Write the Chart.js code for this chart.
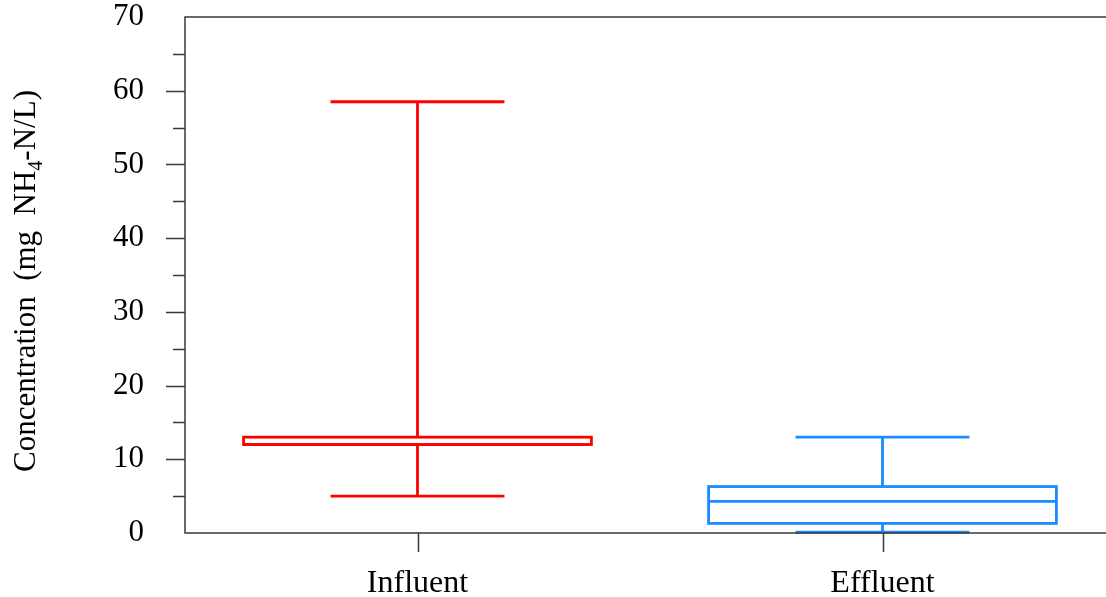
<!DOCTYPE html>
<html>
<head>
<meta charset="utf-8">
<script src="https://cdn.jsdelivr.net/npm/chart.js@4/dist/chart.umd.min.js"></script>
<style>
  html, body { margin: 0; padding: 0; background: #fff; }
  #wrap { width: 1106px; height: 597px; }
</style>
</head>
<body>
<div id="wrap"><canvas id="boxChart"></canvas></div>
<script>
// ammonium concentration, influent vs effluent
const categories = ['Influent', 'Effluent'];
const whiskerLow = [5, 0.1];
const q1 = [12, 1.3];
const median = [12, 4.3];
const q3 = [13, 6.3];
const whiskerHigh = [58.5, 13];
const boxColors = ['#ff0000', '#1a8cff'];
const yTicks = [0, 10, 20, 30, 40, 50, 60, 70];

const FONT = '"Liberation Serif", "Times New Roman", serif';
const AXIS = '#3a3a3a';

// boxes, whiskers, tick marks and the rotated y title
const boxPlot = {
    id: 'boxPlot',
    afterDatasetsDraw(chart) {
        const ctx = chart.ctx;
        const x = chart.scales.x;
        const y = chart.scales.y;
        const unit = x.getPixelForValue(2) - x.getPixelForValue(1);
        const boxHalf = unit * 0.374;
        const capHalf = unit * 0.187;

        ctx.save();
        ctx.lineWidth = 2.8;
        ctx.lineCap = 'butt';
        categories.forEach((c, i) => {
            const cx = x.getPixelForValue(i + 1);
            const yLo = y.getPixelForValue(whiskerLow[i]);
            const yQ1 = y.getPixelForValue(q1[i]);
            const yMed = y.getPixelForValue(median[i]);
            const yQ3 = y.getPixelForValue(q3[i]);
            const yHi = y.getPixelForValue(whiskerHigh[i]);
            ctx.strokeStyle = boxColors[i];

            ctx.beginPath();
            // whiskers
            ctx.moveTo(cx, yHi); ctx.lineTo(cx, yQ3);
            ctx.moveTo(cx, yQ1); ctx.lineTo(cx, yLo);
            // caps
            ctx.moveTo(cx - capHalf, yHi); ctx.lineTo(cx + capHalf, yHi);
            ctx.moveTo(cx - capHalf, yLo); ctx.lineTo(cx + capHalf, yLo);
            // median
            ctx.moveTo(cx - boxHalf, yMed); ctx.lineTo(cx + boxHalf, yMed);
            ctx.stroke();

            ctx.strokeRect(cx - boxHalf, yQ3, boxHalf * 2, yQ1 - yQ3);
        });
        ctx.restore();
    },
    afterDraw(chart) {
        const ctx = chart.ctx;
        const area = chart.chartArea;
        const x = chart.scales.x;
        const y = chart.scales.y;

        ctx.save();
        ctx.strokeStyle = AXIS;
        ctx.lineWidth = 1.5;
        ctx.beginPath();
        // frame: left, bottom, top
        ctx.moveTo(area.right, area.top); ctx.lineTo(area.left, area.top);
        ctx.lineTo(area.left, area.bottom); ctx.lineTo(area.right, area.bottom);
        // y ticks, major every 10 and minor every 5
        for (let v = 5; v < 70; v += 5) {
            const py = Math.round(y.getPixelForValue(v)) + 0.5;
            const len = v % 10 === 0 ? 19 : 12;
            ctx.moveTo(area.left - len, py); ctx.lineTo(area.left, py);
        }
        // x ticks at the categories
        categories.forEach((c, i) => {
            const px = Math.round(x.getPixelForValue(i + 1)) + 0.5;
            ctx.moveTo(px, area.bottom); ctx.lineTo(px, area.bottom + 19);
        });
        ctx.stroke();

        // y title with subscript 4
        const parts = [
            { t: 'Concentration  (mg  NH', sub: false },
            { t: '4', sub: true },
            { t: '-N/L)', sub: false }
        ];
        const big = '31px ' + FONT;
        const small = '20px ' + FONT;
        let total = 0;
        parts.forEach(p => {
            ctx.font = p.sub ? small : big;
            p.w = ctx.measureText(p.t).width;
            total += p.w;
        });
        ctx.translate(27, 281);
        ctx.rotate(-Math.PI / 2);
        ctx.fillStyle = '#000';
        ctx.textBaseline = 'middle';
        let px = -total / 2;
        parts.forEach(p => {
            ctx.font = p.sub ? small : big;
            ctx.fillText(p.t, px, p.sub ? 10 : 0);
            px += p.w;
        });
        ctx.restore();
    }
};

new Chart(document.getElementById('boxChart'), {
    type: 'scatter',
    data: {
        datasets: [{
            label: 'Median',
            data: median.map((m, i) => ({ x: i + 1, y: m })),
            pointRadius: 0,
            showLine: false
        }]
    },
    options: {
        responsive: true,
        maintainAspectRatio: false,
        animation: false,
        layout: { padding: { top: 17, right: 0, left: 0, bottom: 0 } },
        plugins: {
            legend: { display: false },
            tooltip: { enabled: false }
        },
        scales: {
            x: {
                type: 'linear',
                min: 0.5,
                max: 0.5 + 921 / 465,
                grid: { display: false },
                border: { display: false },
                afterBuildTicks: scale => {
                    scale.ticks = categories.map((c, i) => ({ value: i + 1 }));
                },
                afterFit: scale => {
                    scale.height = 64;
                    scale.paddingLeft = 0;
                    scale.paddingRight = 0;
                },
                ticks: {
                    autoSkip: false,
                    maxRotation: 0,
                    padding: 23,
                    color: '#000',
                    font: { family: FONT, size: 32 },
                    callback: v => categories[v - 1] || ''
                }
            },
            y: {
                min: 0,
                max: 70,
                grid: { display: false },
                border: { display: false },
                afterBuildTicks: scale => {
                    scale.ticks = yTicks.map(v => ({ value: v }));
                },
                afterFit: scale => {
                    scale.width = 185;
                    scale.paddingTop = 0;
                    scale.paddingBottom = 0;
                },
                ticks: {
                    padding: 33,
                    color: '#000',
                    font: { family: FONT, size: 31 }
                }
            }
        }
    },
    plugins: [boxPlot]
});
</script>
</body>
</html>
